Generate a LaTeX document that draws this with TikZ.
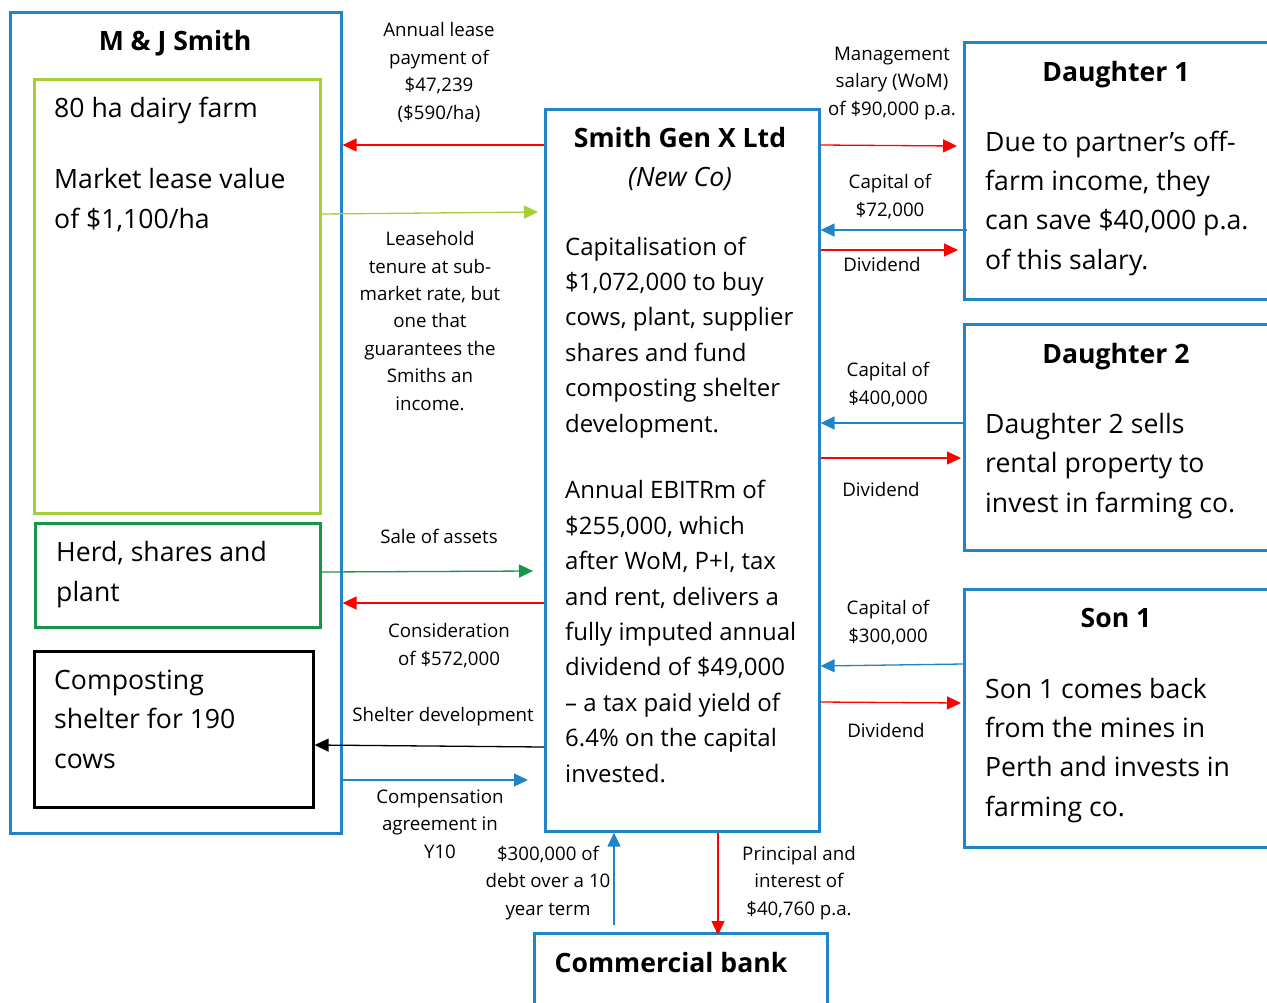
\documentclass[tikz,border=0pt]{standalone}
\usepackage{fontspec}
\setmainfont{Open Sans}
\usetikzlibrary{arrows.meta}

\definecolor{boxblue}{RGB}{31,132,200}
\definecolor{leafgreen}{RGB}{166,206,57}
\definecolor{herdgreen}{RGB}{24,150,72}
\definecolor{flowred}{RGB}{255,0,0}

\tikzset{
  box/.style={draw=#1, line width=2.6pt, inner sep=0pt, anchor=north west},
  flow/.style={draw=#1, line width=1.3pt, -{Triangle[length=14pt,width=13pt,fill=#1]}},
  bigtext/.style={font=\fontsize{26.6}{39.2}\selectfont, align=left, anchor=base west, inner sep=0pt},
  tighttext/.style={font=\fontsize{24}{35.4}\selectfont, align=left, anchor=base west, inner sep=0pt},
  titletext/.style={font=\fontsize{26.6}{32}\selectfont\bfseries, anchor=base, inner sep=0pt},
  flowlabel/.style={font=\fontsize{18.7}{27.4}\selectfont, align=center, anchor=base, inner sep=0pt}
}

\begin{document}
\begin{tikzpicture}[x=1pt,y=-1pt]
  \useasboundingbox (0,0) rectangle (1267,1002);

  % boxes
  \node[box=boxblue, minimum width=331pt, minimum height=821pt] (smith) at (9,11) {};
  \node[box=leafgreen, minimum width=286pt, minimum height=434pt] (farm) at (33,78) {};
  \node[box=herdgreen, minimum width=285pt, minimum height=104pt] (herd) at (34,522) {};
  \node[box=black, minimum width=279pt, minimum height=156pt] (shelter) at (33,650) {};
  \node[box=boxblue, minimum width=274pt, minimum height=722pt] (newco) at (544,108) {};
  \node[box=boxblue, minimum width=330pt, minimum height=257pt] (dau1) at (963,41) {};
  \node[box=boxblue, minimum width=330pt, minimum height=226pt] (dau2) at (963,323) {};
  \node[box=boxblue, minimum width=330pt, minimum height=258pt] (son1) at (963,588) {};
  \node[box=boxblue, minimum width=293pt, minimum height=100pt] (bank) at (533,932) {};

  % box texts (multi-line nodes sit on their last baseline)
  \node[titletext] (smithtitle) at (175,50) {M \& J Smith};
  \node[bigtext] (farmsize) at (54,117) {80 ha dairy farm};
  \node[bigtext] (farmvalue) at (54,228) {Market lease value\\of \$1,100/ha};
  \node[bigtext] (herdtext) at (56,601) {Herd, shares and\\plant};
  \node[bigtext] (sheltertext) at (54,768) {Composting\\shelter for 190\\cows};

  \node[titletext] (newcotitle) at (680,147) {Smith Gen X Ltd};
  \node[font=\fontsize{26.6}{32}\selectfont\itshape, anchor=base, inner sep=0pt] (newcosub) at (680,186) {(New Co)};
  \node[tighttext] (newcocap) at (565,432) {Capitalisation of\\\$1,072,000 to buy\\cows, plant, supplier\\shares and fund\\composting shelter\\development.};
  \node[tighttext] (newcoebit) at (565,782) {Annual EBITRm of\\\$255,000, which\\after WoM, P+I, tax\\and rent, delivers a\\fully imputed annual\\dividend of \$49,000\\– a tax paid yield of\\6.4\% on the capital\\invested.};

  \node[titletext] (dau1title) at (1116,81) {Daughter 1};
  \node[bigtext] (dau1text) at (985,269) {Due to partner’s off-\\farm income, they\\can save \$40,000 p.a.\\of this salary.};
  \node[titletext] (dau2title) at (1116,363) {Daughter 2};
  \node[bigtext] (dau2text) at (985,512) {Daughter 2 sells\\rental property to\\invest in farming co.};
  \node[titletext] (son1title) at (1116,627) {Son 1};
  \node[bigtext] (son1text) at (985,816) {Son 1 comes back\\from the mines in\\Perth and invests in\\farming co.};
  \node[titletext] (banktitle) at (671,972) {Commercial bank};

  % flows between the Smiths and New Co
  \draw[flow=flowred] (newco.west |- 0,145) -- (smith.east |- 0,145);
  \draw[flow=leafgreen] (farm.east |- 0,214) -- ([xshift=-6pt]newco.west |- 0,212);
  \draw[flow=herdgreen] (herd.east |- 0,572) -- ([xshift=-11pt]newco.west |- 0,571);
  \draw[flow=flowred] (newco.west |- 0,603) -- (smith.east |- 0,603);
  \draw[flow=black] (newco.west |- 0,747) -- (shelter.east |- 0,745);
  \draw[flow=boxblue] (smith.east |- 0,780) -- ([xshift=-16pt]newco.west |- 0,780);

  % flows between New Co and the children
  \draw[flow=flowred] (newco.east |- 0,145) -- ([xshift=-6pt]dau1.west |- 0,146);
  \draw[flow=boxblue] ([xshift=4pt]dau1.west |- 0,230) -- (newco.east |- 0,230);
  \draw[flow=flowred] (newco.east |- 0,250) -- ([xshift=-5pt]dau1.west |- 0,250);
  \draw[flow=boxblue] (dau2.west |- 0,423) -- (newco.east |- 0,423);
  \draw[flow=flowred] (newco.east |- 0,458) -- ([xshift=-2pt]dau2.west |- 0,458);
  \draw[flow=boxblue] (son1.west |- 0,664) -- (newco.east |- 0,666);
  \draw[flow=flowred] (newco.east |- 0,702) -- ([xshift=-2pt]son1.west |- 0,703);

  % flows with the bank
  \draw[flow=boxblue] ([yshift=7pt]bank.north -| 614,0) -- (newco.south -| 614,0);
  \draw[flow=flowred] (newco.south -| 718,0) -- ([yshift=-3pt]bank.north -| 718,0);

  % flow labels
  \node[flowlabel] (leaselbl) at (439,119) {Annual lease\\payment of\\\$47,239\\(\$590/ha)};
  \node[flowlabel] (tenurelbl) at (430,410) {Leasehold\\tenure at sub-\\market rate, but\\one that\\guarantees the\\Smiths an\\income.};
  \node[flowlabel] (salelbl) at (439,543) {Sale of assets};
  \node[flowlabel] (considlbl) at (449,665) {Consideration\\of \$572,000};
  \node[flowlabel] (devlbl) at (443,721) {Shelter development};
  \node[flowlabel] (complbl) at (440,858) {Compensation\\agreement in\\Y10};
  \node[flowlabel] (debtlbl) at (548,915) {\$300,000 of\\debt over a 10\\year term};
  \node[flowlabel] (repaylbl) at (799,915) {Principal and\\interest of\\\$40,760 p.a.};
  \node[flowlabel] (womlbl) at (892,115) {Management\\salary (WoM)\\of \$90,000 p.a.};
  \node[flowlabel] (cap1lbl) at (890,216) {Capital of\\\$72,000};
  \node[flowlabel] (div1lbl) at (882,271) {Dividend};
  \node[flowlabel] (cap2lbl) at (888,404) {Capital of\\\$400,000};
  \node[flowlabel] (div2lbl) at (881,496) {Dividend};
  \node[flowlabel] (cap3lbl) at (888,642) {Capital of\\\$300,000};
  \node[flowlabel] (div3lbl) at (886,737) {Dividend};
\end{tikzpicture}
\end{document}
